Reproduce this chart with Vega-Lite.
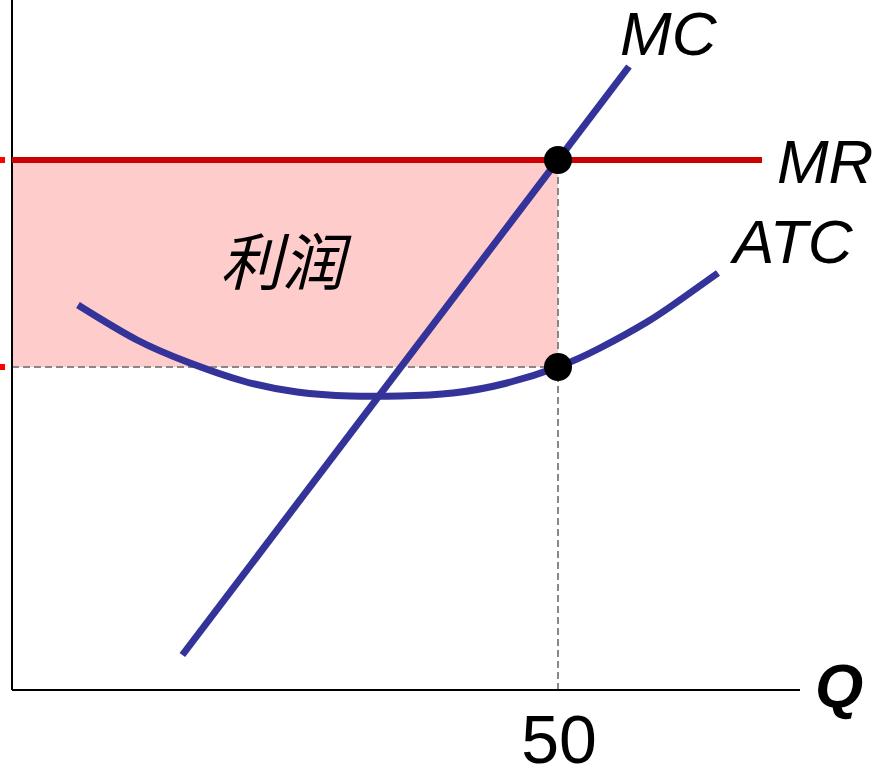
{
  "$schema": "https://vega.github.io/schema/vega-lite/v6.json",
  "width": 890,
  "height": 768,
  "autosize": {"type": "none"},
  "padding": 0,
  "background": "white",
  "config": {"view": {"stroke": null}},
  "datasets": {
    "profit": [{"q0": 0, "q1": 50, "p0": 64.6, "p1": 106}],
    "guides": [
      {"q0": 50, "q1": 50, "p0": 0, "p1": 106},
      {"q0": 0, "q1": 50, "p0": 64.6, "p1": 64.6}
    ],
    "axes": [
      {"q0": 0, "q1": 0, "p0": 0, "p1": 138},
      {"q0": 0, "q1": 72.16, "p0": 0, "p1": 0}
    ],
    "ticks": [
      {"q0": -1.0989, "q1": -0.64, "p": 106},
      {"q0": -1.0989, "q1": -0.64, "p": 64.6}
    ],
    "mr": [{"q0": 0, "q1": 68.68, "p": 106}],
    "mc": [{"q0": 15.6, "q1": 56.5, "p0": 7.0, "p1": 124.7}],
    "atc": [
      {"q": 6.04, "p": 77.0},
      {"q": 11.45, "p": 70.0},
      {"q": 16.30, "p": 65.4},
      {"q": 21.15, "p": 61.8},
      {"q": 26.10, "p": 59.6},
      {"q": 30.95, "p": 58.8},
      {"q": 35.53, "p": 58.8},
      {"q": 40.38, "p": 59.4},
      {"q": 45.33, "p": 61.4},
      {"q": 50.00, "p": 64.6},
      {"q": 53.85, "p": 68.4},
      {"q": 58.15, "p": 73.6},
      {"q": 61.17, "p": 78.0},
      {"q": 64.65, "p": 83.4}
    ],
    "dots": [{"q": 50, "p": 106}, {"q": 50, "p": 64.6}],
    "curveLabels": [
      {"q": 55.68, "p": 127, "label": "MC"},
      {"q": 70.05, "p": 101.4, "label": "MR"},
      {"q": 66.03, "p": 85.4, "label": "ATC"}
    ]
  },
  "layer": [
    {
      "data": {"name": "profit"},
      "mark": {"type": "rect", "color": "#ffcccc"},
      "encoding": {
        "x": {"field": "q0", "type": "quantitative", "scale": {"domain": [-1.0989, 80.4029], "nice": false, "zero": false}, "axis": null},
        "x2": {"field": "q1"},
        "y": {"field": "p0", "type": "quantitative", "scale": {"domain": [-15.6, 138], "nice": false, "zero": false}, "axis": null},
        "y2": {"field": "p1"}
      }
    },
    {
      "data": {"name": "guides"},
      "mark": {"type": "rule", "color": "#888888", "strokeWidth": 2, "strokeDash": [7, 4]},
      "encoding": {
        "x": {"field": "q0", "type": "quantitative"},
        "x2": {"field": "q1"},
        "y": {"field": "p0", "type": "quantitative"},
        "y2": {"field": "p1"}
      }
    },
    {
      "data": {"name": "axes"},
      "mark": {"type": "rule", "color": "#000000", "strokeWidth": 2},
      "encoding": {
        "x": {"field": "q0", "type": "quantitative"},
        "x2": {"field": "q1"},
        "y": {"field": "p0", "type": "quantitative"},
        "y2": {"field": "p1"}
      }
    },
    {
      "data": {"name": "ticks"},
      "mark": {"type": "rule", "color": "#ff0000", "strokeWidth": 6},
      "encoding": {
        "x": {"field": "q0", "type": "quantitative"},
        "x2": {"field": "q1"},
        "y": {"field": "p", "type": "quantitative"}
      }
    },
    {
      "data": {"name": "mr"},
      "mark": {"type": "rule", "color": "#cc0000", "strokeWidth": 6},
      "encoding": {
        "x": {"field": "q0", "type": "quantitative"},
        "x2": {"field": "q1"},
        "y": {"field": "p", "type": "quantitative"}
      }
    },
    {
      "data": {"name": "atc"},
      "mark": {"type": "line", "color": "#333399", "strokeWidth": 7, "interpolate": "natural"},
      "encoding": {
        "x": {"field": "q", "type": "quantitative"},
        "y": {"field": "p", "type": "quantitative"}
      }
    },
    {
      "data": {"name": "mc"},
      "mark": {"type": "rule", "color": "#333399", "strokeWidth": 7},
      "encoding": {
        "x": {"field": "q0", "type": "quantitative"},
        "x2": {"field": "q1"},
        "y": {"field": "p0", "type": "quantitative"},
        "y2": {"field": "p1"}
      }
    },
    {
      "data": {"name": "dots"},
      "mark": {"type": "circle", "color": "#000000", "size": 784, "opacity": 1},
      "encoding": {
        "x": {"field": "q", "type": "quantitative"},
        "y": {"field": "p", "type": "quantitative"}
      }
    },
    {
      "data": {"name": "curveLabels"},
      "mark": {"type": "text", "font": "Liberation Sans", "fontSize": 62, "fontStyle": "italic", "align": "left", "baseline": "alphabetic", "color": "#000000"},
      "encoding": {
        "x": {"field": "q", "type": "quantitative"},
        "y": {"field": "p", "type": "quantitative"},
        "text": {"field": "label"}
      }
    },
    {
      "data": {"values": [{"q": 24.73, "p": 84.8, "label": "利润"}]},
      "mark": {"type": "text", "font": "Noto Sans CJK SC", "fontSize": 62, "fontStyle": "italic", "align": "center", "baseline": "middle", "color": "#000000"},
      "encoding": {
        "x": {"field": "q", "type": "quantitative"},
        "y": {"field": "p", "type": "quantitative"},
        "text": {"field": "label"}
      }
    },
    {
      "data": {"values": [{"q": 73.53, "p": -3.4, "label": "Q"}]},
      "mark": {"type": "text", "font": "Liberation Sans", "fontSize": 62, "fontStyle": "italic", "fontWeight": "bold", "align": "left", "baseline": "alphabetic", "color": "#000000"},
      "encoding": {
        "x": {"field": "q", "type": "quantitative"},
        "y": {"field": "p", "type": "quantitative"},
        "text": {"field": "label"}
      }
    },
    {
      "data": {"values": [{"q": 50.09, "p": -14.6, "label": "50"}]},
      "mark": {"type": "text", "font": "Liberation Sans", "fontSize": 68, "align": "center", "baseline": "alphabetic", "color": "#000000"},
      "encoding": {
        "x": {"field": "q", "type": "quantitative"},
        "y": {"field": "p", "type": "quantitative"},
        "text": {"field": "label"}
      }
    }
  ]
}
